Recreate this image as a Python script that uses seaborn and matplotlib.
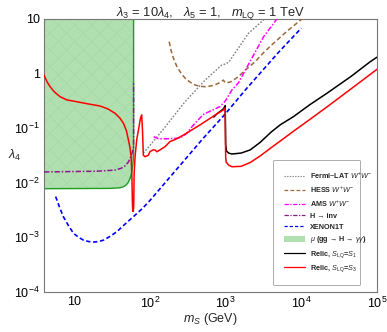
import numpy as np
import pandas as pd
import matplotlib
matplotlib.use("Agg")
import matplotlib.pyplot as plt
import seaborn as sns
from matplotlib.ticker import FixedLocator, FixedFormatter, LogLocator, NullFormatter
from matplotlib.lines import Line2D
from matplotlib.patches import Patch

# ---------------- data ----------------
# Fermi-LAT W+W-
fermi_m = [82, 100, 150, 292, 537, 893, 1000, 1100, 2010, 3400]
fermi_l = [0.035, 0.048, 0.095, 0.306, 0.76, 1.44, 1.5, 1.62, 5.47, 10.5]
# HESS W+W-
hess_m = [180, 188, 195, 210, 228, 260, 300, 350, 396, 460, 537, 620, 700, 805, 937, 985,
          1100, 1211, 1500, 1820, 2460, 3200, 4300, 6500, 10200]
hess_l = [3.84, 2.9, 2.35, 1.75, 1.34, 1.0, 0.79, 0.68, 0.618, 0.585, 0.575, 0.59, 0.61,
          0.664, 0.76, 0.68, 0.69, 0.72, 0.9, 1.16, 1.65, 2.45, 3.59, 6.0, 10.0]
# AMS W+W-
ams_m = [112, 130, 170, 250, 300, 377, 511, 700, 849, 1000, 1211, 1480, 1910, 3180, 4760]
ams_l = [0.070, 0.064, 0.064, 0.066, 0.078, 0.115, 0.18, 0.22, 0.25, 0.32, 0.50, 0.68, 1.3,
         4.74, 10.0]
# H -> inv
hinv_m = [4, 20, 34.8, 42, 47.2, 52, 55, 58.9, 61, 61]
hinv_l = [0.0158, 0.0163, 0.0171, 0.0185, 0.0205, 0.024, 0.028, 0.037, 0.045, 0.72]
# XENON1T
xe_m = [5.7, 6.4, 7.2, 8.4, 9.8, 11.5, 13.3, 15.5, 17.9, 21, 24.4, 30, 36.6, 47, 60.7, 80,
        101, 186, 500, 1000, 1820, 5000, 10000]
xe_l = [5.6e-3, 3.6e-3, 2.4e-3, 1.65e-3, 1.19e-3, 1.0e-3, 8.9e-4, 8.4e-4, 8.2e-4, 8.4e-4,
        8.9e-4, 1.05e-3, 1.27e-3, 1.75e-3, 2.4e-3, 3.4e-3, 4.8e-3, 0.0129, 0.064, 0.185,
        0.5, 2.45, 6.8]
# mu(gg -> H -> gamma gamma) excluded region
green_m = [4, 30, 40, 45, 49, 52, 55, 57.5, 59.5, 60.5, 61]
green_lo = [0.0078, 0.0079, 0.0081, 0.0085, 0.0092, 0.0102, 0.0122, 0.0155, 0.021, 0.027, 0.035]
green_top = 10.0
# Relic, S_LQ = S3 (red)
s3_m = [4, 4.4, 4.82, 5.5, 6.53, 8, 10.9, 15, 22, 28, 34.8, 40, 44.8, 49, 52.1, 54.5, 56.6,
        57.9, 58.9, 59.5, 60.5, 61.3, 62, 63.8, 67, 72, 75, 78, 80, 82, 86.6, 95.6, 100, 110,
        117, 124, 136, 159, 185, 216, 278, 461, 763, 935, 985, 1003, 1018, 1100, 1211, 1600,
        2113, 2864, 4000, 5260, 7890, 13000, 21800, 45000, 100000]
s3_l = [0.94, 0.70, 0.575, 0.46, 0.377, 0.33, 0.305, 0.28, 0.255, 0.225, 0.187, 0.155, 0.123,
        0.09, 0.061, 0.045, 0.030, 0.0132, 0.004, 0.003, 0.003, 0.004, 0.0149, 0.030, 0.061,
        0.107, 0.15, 0.175, 0.09, 0.032, 0.030, 0.032, 0.037, 0.040, 0.040, 0.037, 0.040,
        0.046, 0.057, 0.062, 0.075, 0.115, 0.182, 0.216, 0.235, 0.03, 0.024, 0.021, 0.0197,
        0.020, 0.0235, 0.031, 0.044, 0.058, 0.088, 0.145, 0.245, 0.52, 1.2]
# Relic, S_LQ = S1 (black)
s1_m = [700, 763, 935, 990, 1003, 1030, 1100, 1211, 1600, 2113, 2864, 4000, 5260, 7890,
        13000, 21800, 45000, 81300, 100000]
s1_l = [0.16, 0.182, 0.225, 0.26, 0.05, 0.038, 0.035, 0.0337, 0.035, 0.040, 0.055, 0.085,
        0.115, 0.163, 0.27, 0.436, 0.88, 1.65, 2.0]

xtick_vals = [10, 100, 1000, 1e4, 1e5]
xtick_labels = ['10', '$10^2$', '$10^3$', '$10^4$', '$10^5$']
ytick_vals = [1e-4, 1e-3, 1e-2, 1e-1, 1, 10]
ytick_labels = ['$10^{-4}$', '$10^{-3}$', '$10^{-2}$', '$10^{-1}$', '1', '10']

# ---------------- style ----------------
sns.set_style("white")
plt.rcParams['font.family'] = ['Liberation Sans', 'DejaVu Sans']
plt.rcParams['mathtext.fontset'] = 'custom'
plt.rcParams['mathtext.rm'] = 'Liberation Sans'
plt.rcParams['mathtext.it'] = 'Liberation Sans:italic'
plt.rcParams['mathtext.bf'] = 'Liberation Sans:bold'
plt.rcParams['hatch.linewidth'] = 0.35

fig = plt.figure(figsize=(3.87, 3.32), dpi=100)
ax = fig.add_axes([44/387, 1-292/332, 333/387, 273/332])

# green region
ax.fill_between(green_m, green_lo, green_top, facecolor='#b0dfb0', edgecolor='none', zorder=1)
ax.fill_between(green_m, green_lo, green_top, facecolor='none', edgecolor='#a2d6a2',
                hatch='xx', linewidth=0, zorder=1.1)
sns.lineplot(x=green_m + [green_m[-1]], y=green_lo + [green_top], ax=ax, color='#1f9f1f',
             lw=1.0, sort=False, estimator=None, zorder=2)

def line(mv, lv, color, ls, lw=1.1, z=3):
    sns.lineplot(x=mv, y=lv, ax=ax, color=color, linestyle=ls, lw=lw,
                 sort=False, estimator=None, zorder=z)

line(fermi_m, fermi_l, '#808080', (0, (1.2, 1.2)), 1.0)
line(hess_m, hess_l, '#9c6a3a', (0, (3, 1.8)), 1.1)
line(ams_m, ams_l, '#ff00ff', (0, (3.5, 1.2, 1, 1.2)), 1.1)
line(hinv_m, hinv_l, '#8b1a8b', (0, (3.5, 1.2, 1, 1.2)), 1.1, 4)
line(xe_m, xe_l, '#0000ff', (0, (2.6, 1.6)), 1.2)
line(s1_m, s1_l, 'black', '-', 1.1, 5)
line(s3_m, s3_l, '#ff0000', '-', 1.1, 6)

ax.set_xscale('log')
ax.set_yscale('log')
ax.set_xlim(4, 1e5)
ax.set_ylim(1e-4, 10)

ax.xaxis.set_major_locator(FixedLocator(xtick_vals))
ax.xaxis.set_major_formatter(FixedFormatter(xtick_labels))
ax.yaxis.set_major_locator(FixedLocator(ytick_vals))
ax.yaxis.set_major_formatter(FixedFormatter(ytick_labels))
ax.xaxis.set_minor_locator(LogLocator(base=10, subs=np.arange(2, 10), numticks=20))
ax.yaxis.set_minor_locator(LogLocator(base=10, subs=np.arange(2, 10), numticks=20))
ax.xaxis.set_minor_formatter(NullFormatter())
ax.yaxis.set_minor_formatter(NullFormatter())
ax.tick_params(which='both', direction='in', top=False, right=False, colors='#444444',
               labelcolor='black', labelsize=9, width=0.6)
ax.tick_params(which='major', length=4.5, pad=3)
ax.tick_params(which='minor', length=2.2)
for s in ax.spines.values():
    s.set_color('#777777')
    s.set_linewidth(0.8)

ax.set_title(r'$\lambda_3$ = 10$\lambda_4$,   $\lambda_5$ = 1,   $m_{\rm LQ}$ = 1 TeV',
             fontsize=9.3, pad=2.5)
ax.set_xlabel(r'$m_S$ (GeV)', fontsize=9)
ax.xaxis.set_label_coords(0.5, -0.068)
ax.set_ylabel(r'$\lambda_4$', fontsize=9, rotation=0, ha='center', va='center')
ax.yaxis.set_label_coords(-0.087, 0.502)

handles = [
    Line2D([], [], color='#808080', ls=(0, (1.2, 1.2)), lw=0.8),
    Line2D([], [], color='#9c6a3a', ls=(0, (3, 1.8)), lw=0.9),
    Line2D([], [], color='#ff00ff', ls=(0, (3.5, 1.2, 1, 1.2)), lw=0.9),
    Line2D([], [], color='#8b1a8b', ls=(0, (3.5, 1.2, 1, 1.2)), lw=0.9),
    Line2D([], [], color='#0000ff', ls=(0, (2.6, 1.6)), lw=0.9),
    Patch(facecolor='#b0dfb0', edgecolor='none'),
    Line2D([], [], color='black', lw=0.9),
    Line2D([], [], color='#ff0000', lw=0.9),
]
labels = [r'Fermi$-$LAT $W^{+}W^{-}$', r'HESS $W^{+}W^{-}$', r'AMS $W^{+}W^{-}$',
          'H → inv', 'XENON1T', r'$\mu$ (gg → H → $\gamma\gamma$)',
          r'Relic, $S_{\rm LQ}$=$S_1$', r'Relic, $S_{\rm LQ}$=$S_3$']
leg = ax.legend(handles, labels, loc='lower left',
                bbox_to_anchor=(228.7/333, 7/273, 87.3/333, 122/273),
                mode='expand', prop={'size': 5.2, 'weight': 'bold'}, frameon=True,
                fancybox=True, handlelength=3.0, handleheight=0.9,
                handletextpad=0.6, labelspacing=0.5, borderpad=1.5, borderaxespad=0)
leg.get_frame().set_edgecolor('#888888')
leg.get_frame().set_linewidth(0.6)

fig.savefig('out.png', dpi=100)
